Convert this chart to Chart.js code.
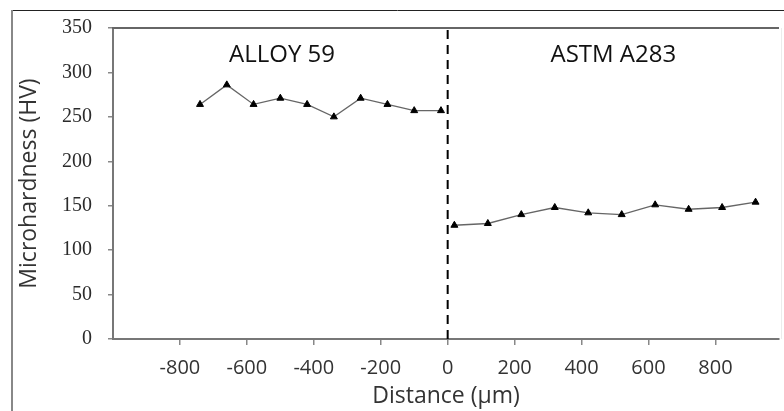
<!DOCTYPE html>
<html>
<head>
<meta charset="utf-8">
<script src="https://cdn.jsdelivr.net/npm/chart.js@4/dist/chart.umd.min.js"></script>
<style>
  html, body { margin: 0; padding: 0; background: #fff; }
  #wrap { width: 784px; height: 411px; position: relative; }
</style>
</head>
<body>
<div id="wrap"><canvas id="c" width="784" height="411"></canvas></div>
<script>
// ---- data ----
const alloyX = [-740, -660, -580, -500, -420, -340, -260, -180, -100, -20];
const alloyY = [264, 286, 264, 271, 264, 250, 271, 264, 257, 257];
const astmX  = [20, 120, 220, 320, 420, 520, 620, 720, 820, 920];
const astmY  = [128, 130, 140, 148, 142, 140, 151, 146, 148, 154];
const interfaceX = [0, 0];
const interfaceY = [0, 350];
const xTickValues = [-800, -600, -400, -200, 0, 200, 400, 600, 800];
const yTickValues = [0, 50, 100, 150, 200, 250, 300, 350];
const regionLabels = ['ALLOY 59', 'ASTM A283'];
const regionLabelX = [-495, 495];
const regionLabelY = [320, 320];
const xTitle = 'Distance (\u03BCm)';
const yTitle = 'Microhardness (HV)';

const toPts = (xs, ys) => xs.map((x, i) => ({ x: x, y: ys[i] }));

const framePlugin = {
  id: 'frame',
  beforeDraw(chart) {
    const ctx = chart.ctx;
    ctx.save();
    ctx.fillStyle = '#fff';
    ctx.fillRect(0, 0, chart.width, chart.height);
    ctx.restore();
  },
  afterDraw(chart) {
    const ctx = chart.ctx;
    const a = chart.chartArea;
    ctx.save();
    // outer frame
    ctx.strokeStyle = '#222';
    ctx.lineWidth = 1;
    ctx.beginPath();
    ctx.moveTo(11, 10.5); ctx.lineTo(784, 10.5);
    ctx.stroke();
    ctx.strokeStyle = '#888';
    ctx.lineWidth = 2;
    ctx.beginPath();
    ctx.moveTo(12, 10); ctx.lineTo(12, 411);
    ctx.stroke();
    // top border of plot area
    ctx.strokeStyle = '#666';
    ctx.lineWidth = 2;
    ctx.beginPath();
    ctx.moveTo(a.left - 1, a.top); ctx.lineTo(a.right, a.top);
    ctx.stroke();
    // faint right border
    ctx.strokeStyle = '#ececec';
    ctx.lineWidth = 1;
    ctx.beginPath();
    ctx.moveTo(781.5, a.top); ctx.lineTo(781.5, a.bottom);
    ctx.stroke();
    ctx.restore();
  },
  afterDatasetsDraw(chart) {
    const ctx = chart.ctx;
    const xs = chart.scales.x, ys = chart.scales.y;
    ctx.save();
    ctx.fillStyle = '#111';
    ctx.font = '24px "Open Sans"';
    ctx.textAlign = 'center';
    ctx.textBaseline = 'middle';
    regionLabels.forEach((t, i) => {
      ctx.fillText(t, xs.getPixelForValue(regionLabelX[i]), ys.getPixelForValue(regionLabelY[i]));
    });
    ctx.restore();
  }
};

new Chart(document.getElementById('c'), {
  type: 'line',
  data: {
    datasets: [
      {
        label: 'ALLOY 59',
        data: toPts(alloyX, alloyY),
        borderColor: '#666',
        borderWidth: 1.3,
        pointStyle: 'triangle',
        pointRadius: 4,
        pointBackgroundColor: '#000',
        pointBorderColor: '#000',
        pointBorderWidth: 1,
        tension: 0
      },
      {
        label: 'ASTM A283',
        data: toPts(astmX, astmY),
        borderColor: '#666',
        borderWidth: 1.3,
        pointStyle: 'triangle',
        pointRadius: 4,
        pointBackgroundColor: '#000',
        pointBorderColor: '#000',
        pointBorderWidth: 1,
        tension: 0
      },
      {
        label: 'interface',
        data: toPts(interfaceX, interfaceY),
        borderColor: '#000',
        borderWidth: 2,
        borderDash: [9, 6],
        pointRadius: 0,
        tension: 0
      }
    ]
  },
  options: {
    responsive: false,
    animation: false,
    layout: { padding: { top: 22, right: 0, left: 0, bottom: 0 } },
    plugins: { legend: { display: false }, tooltip: { enabled: false } },
    scales: {
      x: {
        type: 'linear',
        min: -1000,
        max: 990,
        afterFit(s) { s.height = 72; },
        afterBuildTicks(s) { s.ticks = xTickValues.map(v => ({ value: v })); },
        border: { display: true, color: '#777', width: 2 },
        grid: { drawOnChartArea: false, drawTicks: true, tickLength: 6, color: '#888', lineWidth: 1.5 },
        ticks: {
          padding: 11,
          color: '#333',
          font: { family: '"Open Sans"', size: 20 },
          maxRotation: 0,
          autoSkip: false
        },
        title: {
          display: true,
          text: xTitle,
          color: '#333',
          font: { family: '"Open Sans"', size: 23 },
          padding: { top: 0, bottom: 1 }
        }
      },
      y: {
        type: 'linear',
        min: 0,
        max: 350,
        afterFit(s) { s.width = 113; },
        afterBuildTicks(s) { s.ticks = yTickValues.map(v => ({ value: v })); },
        border: { display: true, color: '#777', width: 2 },
        grid: { drawOnChartArea: false, drawTicks: true, tickLength: 5, color: '#888', lineWidth: 1.5 },
        ticks: {
          padding: 16,
          color: '#2b2b2b',
          font: { family: '"Liberation Serif"', size: 20 }
        },
        title: {
          display: true,
          text: yTitle,
          color: '#333',
          font: { family: '"Open Sans"', size: 23 },
          padding: { top: 16, bottom: 0 }
        }
      }
    }
  },
  plugins: [framePlugin]
});
</script>
</body>
</html>
